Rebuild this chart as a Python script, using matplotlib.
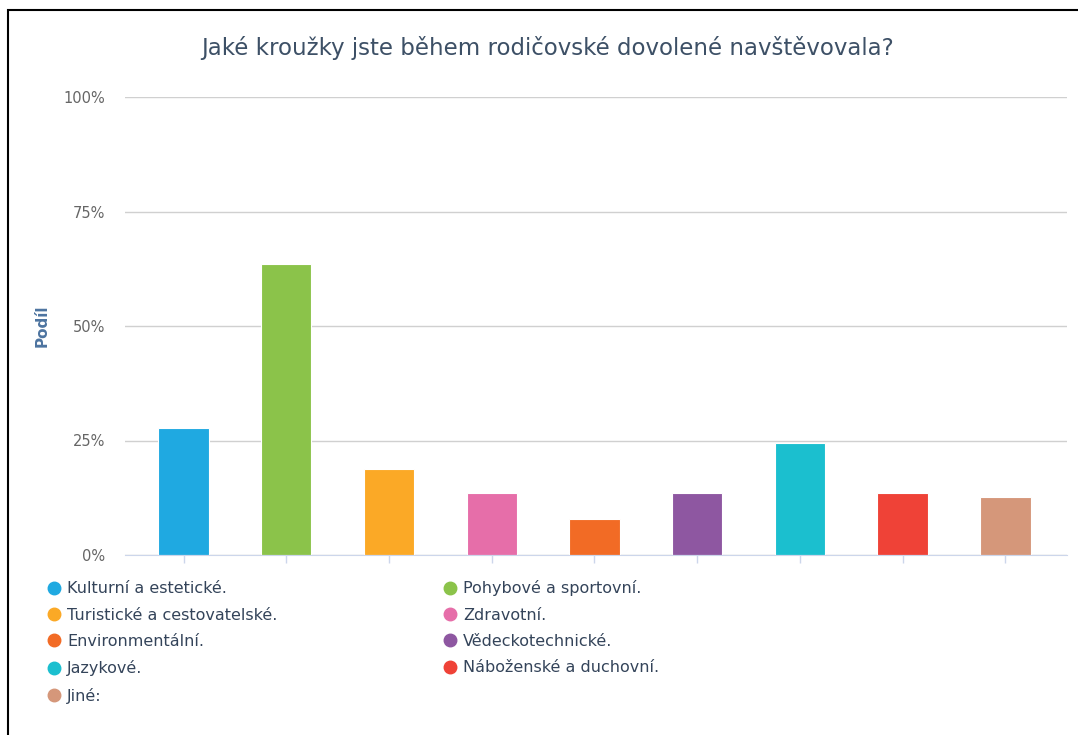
import numpy as np
import matplotlib
matplotlib.use("Agg")
import matplotlib.pyplot as plt
from matplotlib.lines import Line2D
from matplotlib.patches import Rectangle

# data
categories = [
    "Kulturní a estetické.",
    "Pohybové a sportovní.",
    "Turistické a cestovatelské.",
    "Zdravotní.",
    "Environmentální.",
    "Vědeckotechnické.",
    "Jazykové.",
    "Náboženské a duchovní.",
    "Jiné:",
]
values = [27.7, 63.5, 18.8, 13.5, 7.9, 13.5, 24.5, 13.5, 12.7]
colors = ["#1fa9e1", "#8bc34a", "#fba926", "#e66ea9", "#f26b25",
          "#8e57a1", "#1bbfcf", "#ef4237", "#d5977a"]
yticks = [0, 25, 50, 75, 100]
ytick_labels = ["0%", "25%", "50%", "75%", "100%"]

plt.rcParams['font.family'] = ['DejaVu Sans']

W, H = 1078, 735
fig = plt.figure(figsize=(W / 100, H / 100), dpi=100)

# ramecek kolem grafu
fig.patches.append(Rectangle((8 / W, -0.01), 1.1, 1 - 10 / H + 0.01,
                             transform=fig.transFigure, fill=False,
                             edgecolor="black", linewidth=1.5))

ax = fig.add_axes([125 / W, 1 - 555 / H, (1067 - 125) / W, (555 - 97) / H])
x = np.arange(len(categories))
ax.bar(x, values, width=0.49, color=colors, edgecolor="white", linewidth=0.8, zorder=3)

ax.set_ylim(0, 100)
ax.set_xlim(-0.57, 8.6)
ax.set_yticks(yticks)
ax.set_yticklabels(ytick_labels, color="#666666", fontsize=10.5)
ax.set_xticks(x)
ax.set_xticklabels([])
ax.tick_params(axis="y", length=0, pad=14)
ax.tick_params(axis="x", length=6, color="#ccd6eb", width=1)
ax.grid(axis="y", color="#d0d0d0", linewidth=1, zorder=0)
for s in ["top", "right", "left"]:
    ax.spines[s].set_visible(False)
ax.spines["bottom"].set_color("#ccd6eb")
ax.spines["bottom"].set_zorder(4)

ax.set_ylabel("Podíl", color="#4d74a0", fontsize=11, fontweight="bold", labelpad=10)

fig.text(548 / W, 1 - 48 / H, "Jaké kroužky jste během rodičovské dovolené navštěvovala?",
         ha="center", va="center", fontsize=16.5, color="#3d5066")

# legenda po radcich (2 sloupce)
handles = [Line2D([], [], marker="o", linestyle="none", markersize=9,
                  markerfacecolor=c, markeredgecolor=c) for c in colors]
order = [0, 2, 4, 6, 8, 1, 3, 5, 7]
leg = fig.legend([handles[i] for i in order], [categories[i] for i in order],
                 ncol=2, loc="upper left", bbox_to_anchor=(40 / W, 1 - 574 / H),
                 frameon=False, fontsize=11.5, labelcolor="#34445a",
                 handletextpad=0.3, handlelength=1.0, columnspacing=10.3,
                 labelspacing=0.71, borderaxespad=0)

fig.savefig("out.png", dpi=100)
